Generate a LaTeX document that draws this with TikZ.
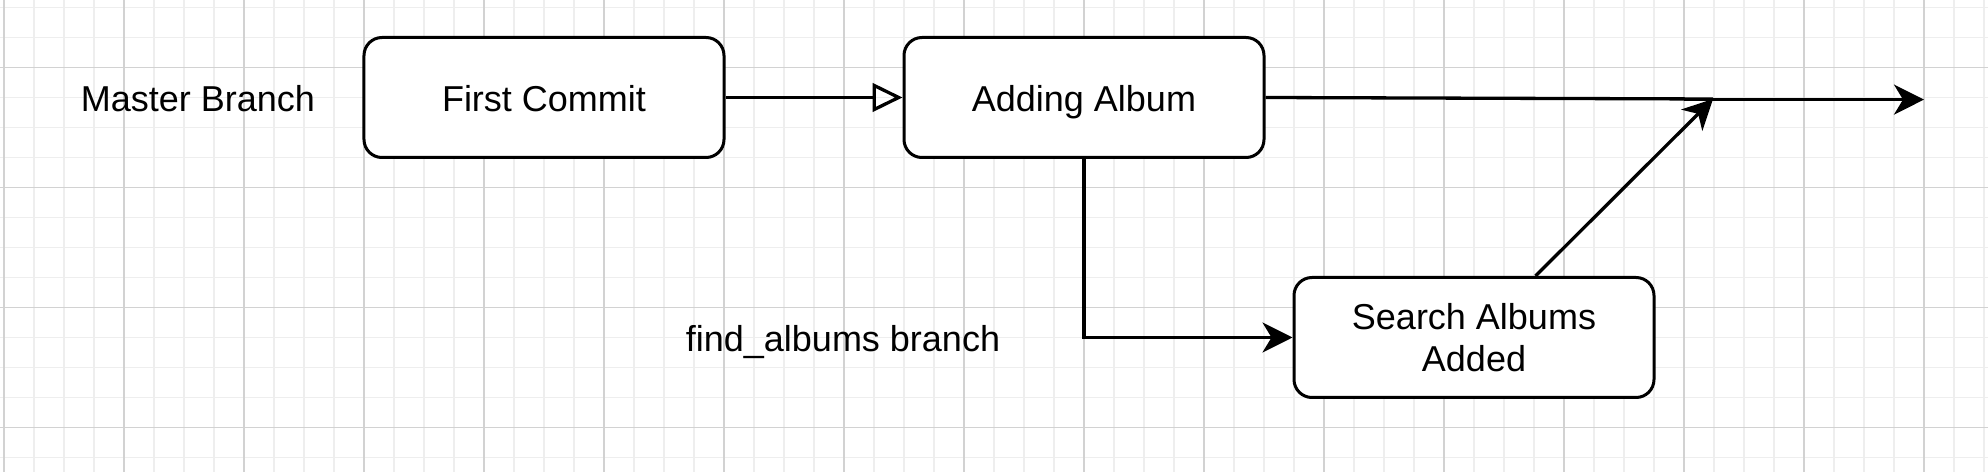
\documentclass[tikz,border=0pt]{standalone}
\usepackage{fontspec}
\setmainfont{Liberation Sans}
\usetikzlibrary{arrows.meta,calc}
\begin{document}
\begin{tikzpicture}[x=1pt,y=-1pt,
  commit/.style={draw=black,line width=1pt,rounded corners=6pt,fill=white,
    minimum width=120pt,minimum height=40pt,inner sep=0pt,align=center,
    font=\fontsize{12}{14}\selectfont},
  oneline/.style={text height=10pt,text depth=0.4pt},
  lbl/.style={inner sep=0pt,font=\fontsize{12}{14}\selectfont,text height=10pt,text depth=0.4pt},
  conn/.style={draw=black,line width=1.1pt},
  tip/.style={-{Stealth[length=10pt,width=10pt,inset=3pt]}},
  opentip/.style={-{Triangle[open,length=10pt,width=9.5pt,line width=1.1pt]}},
  minorgrid/.style={draw={rgb,255:red,238;green,238;blue,238},line width=0.45pt},
  majorgrid/.style={draw={rgb,255:red,210;green,210;blue,210},line width=0.45pt}]
\useasboundingbox (0,0) rectangle (662.67,157.33);
\fill[white] (0,0) rectangle (662.67,157.33);
% grid
\foreach \i in {0,...,66} {\draw[minorgrid] (1.33+10*\i,0) -- (1.33+10*\i,157.33);}
\foreach \j in {0,...,15} {\draw[minorgrid] (0,2.5+10*\j) -- (662.67,2.5+10*\j);}
\foreach \i in {0,...,16} {\draw[majorgrid] (1.33+40*\i,0) -- (1.33+40*\i,157.33);}
\foreach \j in {0,...,3} {\draw[majorgrid] (0,22.5+40*\j) -- (662.67,22.5+40*\j);}
% nodes
\node[lbl] (master) at (66,32.5) {Master Branch};
\node[commit,oneline] (fc) at (181.33,32.5) {First Commit};
\node[commit,oneline] (aa) at (361.33,32.5) {Adding Album};
\node[commit] (sa) at (491.33,112.5) {Search Albums\\Added};
\node[lbl] (find) at (281,112.5) {find\_albums branch};
\coordinate (j1) at (571,33);
\coordinate (j0) at (561.33,33.2);
\coordinate (out) at (641.33,33.2);
\coordinate (saTop) at ($(sa.north)+(20.5,0)$);
% connectors
\draw[conn,opentip] (fc.east) -- (aa.west);
\draw[conn] (aa.east) -- (j1);
\draw[conn,tip] (j0) -- (out);
\draw[conn,tip] (aa.south) |- (sa.west);
\draw[conn,tip] (saTop) -- (j1);
\end{tikzpicture}
\end{document}
